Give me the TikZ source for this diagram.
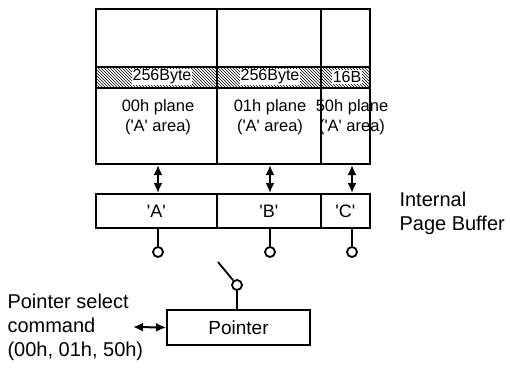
\documentclass[tikz,border=0pt]{standalone}
\usepackage{fontspec}
\setmainfont{Liberation Sans}
\usetikzlibrary{arrows.meta,patterns,positioning}
\newcommand{\sq}[1]{\textquotesingle#1\textquotesingle}
\tikzset{
  column/.style={draw,line width=2pt,inner sep=0pt,anchor=north west,minimum height=155pt},
  bufcell/.style={draw,line width=1.8pt,inner sep=0pt,anchor=north west,minimum height=34pt,
    font=\fontsize{18}{22}\selectfont},
  bandlabel/.style={fill=white,inner sep=1pt,font=\fontsize{16}{19}\selectfont},
  planetext/.style={align=center,font=\fontsize{16.5}{20}\selectfont},
  outertext/.style={align=left,anchor=west,font=\fontsize{20}{24}\selectfont},
  contact/.style={circle,draw,line width=1.8pt,minimum size=10pt,inner sep=0pt},
  dbl/.style={line width=2pt,{Latex[length=10pt,width=9pt]}-{Latex[length=10pt,width=9pt]}},
  wire/.style={line width=1.8pt}
}
\begin{document}
\begin{tikzpicture}[x=1pt,y=-1pt]
\useasboundingbox (0,0) rectangle (510,369);
% Planes of the memory array
\node[column,minimum width=121pt] (p00) at (95,8) {};
\node[column,minimum width=104pt] (p01) at (216,8) {};
\node[column,minimum width=49pt] (p50) at (320,8) {};
% Hatched band
\fill[pattern=north west lines] (95,67) rectangle (369,88);
\draw[line width=1.4pt] (95,67) -- (369,67);
\draw[line width=1.4pt] (95,88) -- (369,88);
\node[bandlabel] (b00) at (162,77) {256Byte};
\node[bandlabel] (b01) at (270,77) {256Byte};
\node[bandlabel] (b50) at (347,77) {16B};
\node[planetext] (t00) at (158,117) {00h plane\\(\sq{A} area)};
\node[planetext] (t01) at (270,117) {01h plane\\(\sq{A} area)};
\node[planetext] (t50) at (352,117) {50h plane\\(\sq{A} area)};
% Internal page buffer
\node[bufcell,minimum width=121pt] (bufA) at (95,193) {\sq{A}};
\node[bufcell,minimum width=104pt] (bufB) at (216,193) {\sq{B}};
\node[bufcell,minimum width=49pt] (bufC) at (320,193) {\sq{C}};
\node[outertext] (ipb) at (396,213) {Internal\\Page Buffer};
\coordinate (tapA) at (158,0);
\coordinate (tapB) at (270,0);
\coordinate (tapC) at (352,0);
\draw[dbl] (tapA |- p00.south) -- (tapA |- bufA.north);
\draw[dbl] (tapB |- p01.south) -- (tapB |- bufB.north);
\draw[dbl] (tapC |- p50.south) -- (tapC |- bufC.north);
% Contacts
\node[contact] (cA) at (158,252) {};
\node[contact] (cB) at (270,252) {};
\node[contact] (cC) at (352,252) {};
\draw[wire] (tapA |- bufA.south) -- (cA);
\draw[wire] (tapB |- bufB.south) -- (cB);
\draw[wire] (tapC |- bufC.south) -- (cC);
% Pointer and switch
\node[draw,line width=1.8pt,minimum width=143pt,minimum height=35pt,inner sep=0pt,
  font=\fontsize{19}{22}\selectfont] (ptr) at (238.5,327.5) {Pointer};
\node[contact] (sw) at (237,285) {};
\coordinate (lever) at (218,262);
\draw[wire] (sw) -- (lever);
\draw[wire] (sw) -- (sw |- ptr.north);
\node[outertext] (sel) at (4,327) {Pointer select\\command\\(00h, 01h, 50h)};
\coordinate (selend) at (133,327);
\draw[dbl] (selend) -- (ptr.west);
\end{tikzpicture}
\end{document}
